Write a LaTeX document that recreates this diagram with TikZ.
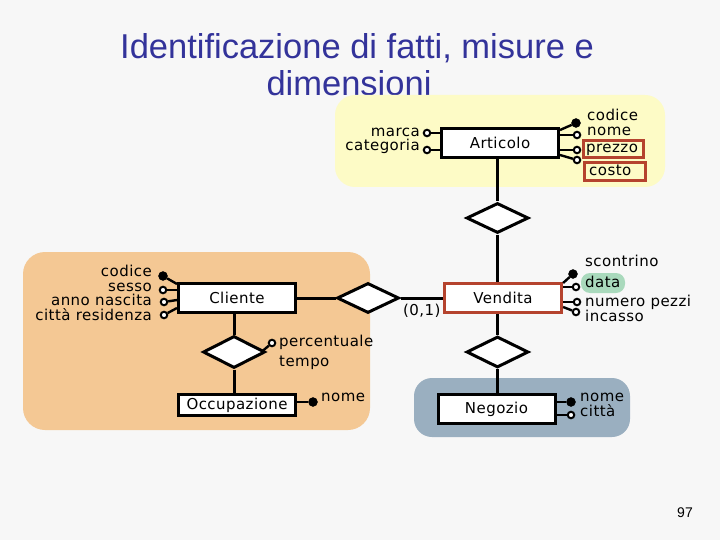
\documentclass[tikz,border=0pt]{standalone}
\usepackage{fontspec}
\setmainfont{DejaVu Sans}[LetterSpace=3]
\newfontfamily\titlefont{Liberation Sans}
\usetikzlibrary{shapes.geometric,calc}
\definecolor{bgc}{HTML}{F7F7F7}
\definecolor{yellowbg}{HTML}{FDFBC6}
\definecolor{orangebg}{HTML}{F4C894}
\definecolor{bluebg}{HTML}{9AAFC0}
\definecolor{redc}{HTML}{B5432E}
\definecolor{greenc}{HTML}{A9D9BC}
\definecolor{titlec}{HTML}{33339A}
\begin{document}
\begin{tikzpicture}[x=1pt,y=-1pt,
 ent/.style={draw=black, line width=3pt, fill=white, minimum width=117pt, minimum height=29pt, inner sep=0pt, font=\fontsize{15}{17}\selectfont},
 rel/.style={diamond, draw=black, line width=3pt, fill=white, inner sep=0pt, minimum width=62pt, minimum height=30pt},
 link/.style={line width=3pt},
 alink/.style={line width=2.4pt},
 ao/.style={circle, draw=black, line width=2pt, fill=white, inner sep=0pt, minimum size=6.5pt},
 af/.style={circle, draw=black, fill=black, inner sep=0pt, minimum size=9pt},
 lab/.style={font=\fontsize{15}{17}\selectfont, inner sep=0pt},
 redbox/.style={draw=redc, line width=3pt}
]
\useasboundingbox (0,0) rectangle (720,540);
\fill[bgc] (0,0) rectangle (720,540);
% title
\node[anchor=base, text=titlec, font=\titlefont\fontsize{34.5}{38}\selectfont, inner sep=0pt] (t1) at (357,58.5) {Identificazione di fatti, misure e};
\node[anchor=base, text=titlec, font=\titlefont\fontsize{34.5}{38}\selectfont, inner sep=0pt] (t2) at (349,95.5) {dimensioni};
% regions
\fill[yellowbg, rounded corners=20pt] (335,95) rectangle (665,187);
\fill[orangebg, rounded corners=22pt] (23,252) rectangle (370,430);
\fill[bluebg, rounded corners=18pt] (414,378) rectangle (630,437);
% entities and relationships
\node[ent] (art) at (500,143) {Articolo};
\node[rel] (r1) at (497.5,218) {};
\node[ent, draw=redc, line width=3.2pt] (vend) at (503,298) {Vendita};
\node[ent] (cli) at (237,298) {Cliente};
\node[rel] (r2) at (368,298) {};
\node[rel, minimum height=32pt] (r3) at (234,352) {};
\node[ent, minimum height=21pt] (occ) at (237,405) {Occupazione};
\node[rel, minimum height=31pt] (r4) at (497.5,352) {};
\node[ent] (neg) at (496.5,409) {Negozio};
% main links
\draw[link] (art.south -| r1) -- (r1.north);
\draw[link] (r1.south) -- (r1.south |- vend.north);
\draw[link] (cli.east) -- (r2.west);
\draw[link] (r2.east) -- (vend.west |- r2.east);
\draw[link] (r3.north |- cli.south) -- (r3.north);
\draw[link] (r3.south) -- (r3.south |- occ.north);
\draw[link] (vend.south -| r4) -- (r4.north);
\draw[link] (r4.south) -- (r4.south |- neg.north);
\node[lab, anchor=base west] (card) at (403,315) {(0,1)};
% Articolo attributes
\node[ao] (amarca) at (427,133) {};
\node[ao] (acateg) at (427,150) {};
\draw[alink] (amarca) -- (art.west |- amarca);
\draw[alink] (acateg) -- (art.west |- acateg);
\node[lab, anchor=base east] (lmarca) at (420,136.5) {marca};
\node[lab, anchor=base east] (lcateg) at (420,150.5) {categoria};
\node[af] (acod) at (576,123) {};
\node[ao] (anome) at (577,135) {};
\node[ao] (aprezzo) at (577,150) {};
\node[ao] (acosto) at (577,160) {};
\draw[alink] (art.east |- 0,130) -- (acod);
\draw[alink] (anome) -- (art.east |- anome);
\draw[alink] (aprezzo) -- (art.east |- aprezzo);
\draw[alink] (art.east |- 0,155) -- (acosto);
\node[lab, anchor=base west] (lcod) at (587,120.7) {codice};
\node[lab, anchor=base west] (lnome) at (587,135.7) {nome};
\draw[redbox] (583,141) rectangle (643,158);
\draw[redbox] (584,163) rectangle (645,181);
\node[lab, anchor=base west] (lprezzo) at (586,153) {prezzo};
\node[lab, anchor=base west] (lcosto) at (589,175.7) {costo};
% Vendita attributes
\fill[greenc, rounded corners=9pt] (581,273) rectangle (625,293);
\node[af] (vsc) at (573,274) {};
\node[ao] (vdata) at (576,287) {};
\node[ao] (vnum) at (577,302) {};
\node[ao] (vinc) at (576,312) {};
\draw[alink] (vend.east |- 0,283) -- (vsc);
\draw[alink] (vdata) -- (vend.east |- vdata);
\draw[alink] (vnum) -- (vend.east |- vnum);
\draw[alink] (vend.east |- 0,307) -- (vinc);
\node[lab, anchor=base west] (lsc) at (585,266.7) {scontrino};
\node[lab, anchor=base west] (ldata) at (585,287.7) {data};
\node[lab, anchor=base west] (lnum) at (585,306.7) {numero pezzi};
\node[lab, anchor=base west] (linc) at (585,321.7) {incasso};
% Cliente attributes
\node[af] (cc) at (163,276) {};
\node[ao] (cs) at (163,290) {};
\node[ao] (ca) at (164,302) {};
\node[ao] (cr) at (164,315) {};
\draw[alink] (cli.west |- 0,284) -- (cc);
\draw[alink] (cs) -- (cli.west |- cs);
\draw[alink] (cli.west |- 0,300) -- (ca);
\draw[alink] (cli.west |- 0,308) -- (cr);
\node[lab, anchor=base east] (lcc) at (152,276.7) {codice};
\node[lab, anchor=base east] (lcs) at (152,291.7) {sesso};
\node[lab, anchor=base east] (lca) at (152,305.7) {anno nascita};
\node[lab, anchor=base east] (lcr) at (152,320) {città residenza};
% relationship attribute
\node[ao] (perc) at (272,343) {};
\draw[alink] ([xshift=-4pt,yshift=1pt]r3.east) -- (perc);
\node[lab, anchor=base west] (lperc) at (279,346.7) {percentuale};
\node[lab, anchor=base west] (ltempo) at (279,366) {tempo};
% Occupazione attribute
\node[af] (onome) at (313,402) {};
\draw[alink] (occ.east |- onome) -- (onome);
\node[lab, anchor=base west] (lonome) at (321,401.7) {nome};
% Negozio attributes
\node[af] (nn) at (571,402) {};
\node[ao] (nc) at (571,415) {};
\draw[alink] (neg.east |- nn) -- (nn);
\draw[alink] (neg.east |- nc) -- (nc);
\node[lab, anchor=base west] (lnn) at (580,401.7) {nome};
\node[lab, anchor=base west] (lnc) at (580,416.7) {città};
% page number
\node[anchor=base, font=\titlefont\fontsize{14}{16}\selectfont, inner sep=0pt] (pg) at (685,517) {97};
\end{tikzpicture}
\end{document}
